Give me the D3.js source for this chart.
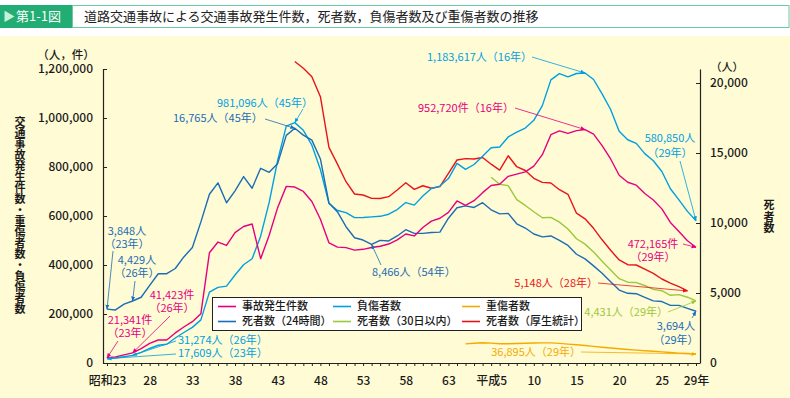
<!DOCTYPE html>
<html>
<head>
<meta charset="utf-8">
<script src="https://cdn.jsdelivr.net/npm/d3@7"></script>
<style>
  body { margin: 0; background: #fff; }
  text { font-family: "Noto Sans CJK JP", "Noto Sans", sans-serif; }
</style>
</head>
<body>
<script>
// years 昭和23 (1948) .. 平成29 (2017)
const years = [1948,1949,1950,1951,1952,1953,1954,1955,1956,1957,
  1958,1959,1960,1961,1962,1963,1964,1965,1966,1967,
  1968,1969,1970,1971,1972,1973,1974,1975,1976,1977,
  1978,1979,1980,1981,1982,1983,1984,1985,1986,1987,
  1988,1989,1990,1991,1992,1993,1994,1995,1996,1997,
  1998,1999,2000,2001,2002,2003,2004,2005,2006,2007,
  2008,2009,2010,2011,2012,2013,2014,2015,2016,2017];

// 事故発生件数
const accidents = [21341,25113,33212,41423,58487,80019,93869,93981,122691,146833,
  168799,201292,449917,493693,479825,531966,557183,567286,425944,521481,
  635056,720880,718080,700290,659283,586713,490452,472938,471041,460649,
  464037,471573,476677,485578,502261,526362,518642,552788,579190,590723,
  614481,661363,643097,662392,695346,724675,729461,761794,771085,780401,
  803878,850371,931950,947253,936950,948281,952720,934346,887267,832704,
  766394,737628,725924,692084,665157,629033,573842,536899,499201,472165];

// 負傷者数
const injured = [17609,20242,25450,31274,43321,59280,72390,76501,102072,124530,
  145432,175951,289156,308697,313813,359089,401117,425666,517775,655377,
  828071,967000,981096,949689,889198,789948,651420,622467,613957,593211,
  594116,596282,598719,607346,626192,654822,644321,681346,712330,722179,
  752845,814832,790295,810245,844003,878633,881723,922677,942204,958925,
  990675,1050399,1155697,1181039,1168029,1181681,1183617,1157113,1098564,1034652,
  945703,911215,896297,854613,825392,781492,711374,666023,618853,580850];

// 死者数（24時間）
const deaths24 = [3848,3790,4202,4429,4696,5544,6374,6379,6751,7575,
  8248,10079,12055,12865,11445,12301,13318,12484,13904,13618,
  14256,16257,16765,16278,15918,14574,11432,10792,9734,8945,
  8783,8466,8760,8719,9073,9520,9262,9261,9317,9347,
  10344,11086,11227,11109,11452,10945,10653,10684,9943,9642,
  9214,9012,9073,8757,8396,7768,7436,6937,6415,5796,
  5209,4979,4948,4691,4438,4388,4113,4117,3904,3694];

// 重傷者数 (1990-2017)
const seriousYears = [1990,1991,1992,1993,1994,1995,1996,1997,1998,1999,
  2000,2001,2002,2003,2004,2005,2006,2007,2008,2009,
  2010,2011,2012,2013,2014,2015,2016,2017];
const serious = [78000,80500,82500,81000,78500,78500,79500,80500,81500,82000,
  82000,80000,77000,74500,71500,68000,64500,61000,58000,55000,
  52500,50000,48000,45500,43000,40500,38500,36895];

// 死者数（30日以内） (1993-2017)
const d30Years = [1993,1994,1995,1996,1997,1998,1999,2000,2001,2002,
  2003,2004,2005,2006,2007,2008,2009,2010,2011,2012,
  2013,2014,2015,2016,2017];
const deaths30 = [13269,12768,12670,11674,11254,10805,10372,10403,10060,9575,
  8877,8492,7931,7272,6639,6023,5772,5745,5535,5261,
  5165,4838,4885,4698,4431];

// 死者数（厚生統計） (1970-2016)
const vitalYears = [1970,1971,1972,1973,1974,1975,1976,1977,1978,1979,
  1980,1981,1982,1983,1984,1985,1986,1987,1988,1989,
  1990,1991,1992,1993,1994,1995,1996,1997,1998,1999,
  2000,2001,2002,2003,2004,2005,2006,2007,2008,2009,
  2010,2011,2012,2013,2014,2015,2016];
const vital = [21535,21050,20450,19020,15400,14206,12950,12070,12000,11760,
  11752,11880,12360,12880,12400,12660,12480,12600,13550,14500,
  14595,14570,14680,14200,13780,14800,14020,13750,13190,12900,
  12857,12380,12050,10700,10300,9620,8800,8050,7360,7020,
  7000,6700,6400,6000,5700,5450,5148];

// x tick labels
const labelYears = [1948,1953,1958,1963,1968,1973,1978,1983,1988,1993,1998,2003,2008,2013,2017];
const labelText = ['昭和23','28','33','38','43','48','53','58','63','平成5','10','15','20','25','29年'];
const leftTicks = [0,200000,400000,600000,800000,1000000,1200000];
const rightTicks = [0,5000,10000,15000,20000];

const C = {
  accidents: '#e5007f',
  injured: '#00a0e0',
  deaths24: '#1b6db6',
  serious: '#f5aa00',
  deaths30: '#9bc93c',
  vital: '#e8141c',
  title: '#22ad74'
};

const W = 790, H = 398;
const svg = d3.select('body').append('svg').attr('width', W).attr('height', H);

// background + title
svg.append('rect').attr('x', 0).attr('y', 36).attr('width', W).attr('height', H - 36).attr('fill', '#fffbd5');
svg.append('rect').attr('x', 72.5).attr('y', 5.5).attr('width', 716.5).attr('height', 22)
  .attr('fill', '#fff').attr('stroke', '#6cc9a2');
svg.append('rect').attr('x', 0).attr('y', 5).attr('width', 72).attr('height', 23).attr('fill', C.title);
svg.append('text').attr('x', 3).attr('y', 16.5).attr('dy', '0.35em')
  .attr('font-size', 12).attr('fill', '#c9efdc').text('▶');
svg.append('text').attr('x', 16).attr('y', 16.5).attr('dy', '0.35em')
  .attr('font-size', 13).attr('fill', '#fff').text('第1-1図');
svg.append('text').attr('x', 84).attr('y', 16.5).attr('dy', '0.35em')
  .attr('font-size', 13).attr('fill', '#222')
  .text('道路交通事故による交通事故発生件数，死者数，負傷者数及び重傷者数の推移');

// scales
const x = d3.scaleLinear().domain([1948, 2017]).range([107, 696]);
const yL = d3.scaleLinear().domain([0, 1200000]).range([363, 69]);
const yR = d3.scaleLinear().domain([0, 21000]).range([363, 69]);

// axes
const axL = svg.append('g').attr('transform', 'translate(103,0)')
  .call(d3.axisLeft(yL).tickValues(leftTicks).tickFormat(d3.format(','))
    .tickSizeInner(-4).tickSizeOuter(0).tickPadding(10));
const axR = svg.append('g').attr('transform', 'translate(700,0)')
  .call(d3.axisRight(yR).tickValues(rightTicks).tickFormat(d3.format(','))
    .tickSizeInner(-4).tickSizeOuter(0).tickPadding(10));

const axB = svg.append('g').attr('transform', 'translate(0,363)')
  .call(d3.axisBottom(x).tickValues(years).tickFormat('').tickSizeInner(3).tickSizeOuter(0));
axB.select('.domain').remove();
const axBL = svg.append('g').attr('transform', 'translate(0,363)')
  .call(d3.axisBottom(x).tickValues(labelYears)
    .tickFormat((d, i) => labelText[i]).tickSize(0).tickPadding(13));
axBL.select('.domain').remove();
svg.append('line').attr('x1', 103).attr('x2', 700).attr('y1', 363.5).attr('y2', 363.5)
  .attr('stroke', '#222').attr('stroke-width', 1.2);

[axL, axR, axB, axBL].forEach(g => {
  g.selectAll('.domain').attr('stroke', '#222').attr('stroke-width', 1.2);
  g.selectAll('.tick line').attr('stroke', '#222');
  g.selectAll('text').attr('font-size', 12).attr('fill', '#1a1a1a')
    .style('font-family', '"Noto Sans CJK JP", sans-serif').attr('font-weight', 500);
});

// axis titles
svg.append('text').attr('x', 66).attr('y', 55).attr('dy', '0.35em').attr('text-anchor', 'middle')
  .attr('font-size', 11.5).attr('font-weight', 500).attr('fill', '#1a1a1a').text('（人，件）');
svg.append('text').attr('x', 727).attr('y', 67).attr('dy', '0.35em').attr('text-anchor', 'middle')
  .attr('font-size', 11).attr('font-weight', 500).attr('fill', '#1a1a1a').text('（人）');
svg.append('text').attr('x', 20).attr('y', 116.5)
  .style('writing-mode', 'vertical-rl').style('text-orientation', 'upright')
  .attr('font-size', 11).attr('font-weight', 700).attr('fill', '#1a1a1a')
  .text('交通事故発生件数・重傷者数・負傷者数');
svg.append('text').attr('x', 769).attr('y', 199.5)
  .style('writing-mode', 'vertical-rl').style('text-orientation', 'upright')
  .attr('font-size', 11).attr('font-weight', 700).attr('fill', '#1a1a1a')
  .attr('letter-spacing', 0.5).text('死者数');

// series lines
const series = [
  { key: 'serious', yrs: seriousYears, vals: serious, y: yL },
  { key: 'deaths30', yrs: d30Years, vals: deaths30, y: yR },
  { key: 'vital', yrs: vitalYears, vals: vital, y: yR },
  { key: 'injured', yrs: years, vals: injured, y: yL },
  { key: 'deaths24', yrs: years, vals: deaths24, y: yR },
  { key: 'accidents', yrs: years, vals: accidents, y: yL }
];
const byKey = {};
series.forEach(s => {
  byKey[s.key] = s;
  const pts = s.yrs.map((yr, i) => [x(yr), s.y(s.vals[i])]);
  svg.append('path').attr('d', d3.line()(pts))
    .attr('fill', 'none').attr('stroke', C[s.key]).attr('stroke-width', 1.4)
    .attr('stroke-linejoin', 'round');
});

// arrow markers
const defs = svg.append('defs');
Object.keys(C).forEach(k => {
  defs.append('marker').attr('id', 'arr-' + k).attr('viewBox', '0 0 10 10')
    .attr('refX', 9).attr('refY', 5).attr('markerWidth', 5).attr('markerHeight', 5)
    .attr('markerUnits', 'userSpaceOnUse').attr('orient', 'auto')
    .append('path').attr('d', 'M0,1 L10,5 L0,9 z').attr('fill', C[k]);
});

// annotations
const notes = [
  { t: ['981,096人（45年）'], s: 'injured', yr: 1970, x: 217, y: 103, a: 'start', from: [303, 109] },
  { t: ['16,765人（45年）'], s: 'deaths24', yr: 1970, x: 173, y: 118, a: 'start', from: [265, 119] },
  { t: ['1,183,617人（16年）'], s: 'injured', yr: 2004, x: 427, y: 57, a: 'start', from: [532, 57] },
  { t: ['952,720件（16年）'], s: 'accidents', yr: 2004, x: 418, y: 108, a: 'start', from: [515, 108] },
  { t: ['580,850人', '（29年）'], s: 'injured', yr: 2017, x: 670, y: 138, a: 'middle', lh: 15, from: [680, 161] },
  { t: ['472,165件', '（29年）'], s: 'accidents', yr: 2017, x: 653, y: 244, a: 'middle', lh: 13.5, from: [683, 244] },
  { t: ['5,148人（28年）'], s: 'vital', yr: 2016, x: 598, y: 283, a: 'end', from: [598, 283] },
  { t: ['4,431人（29年）'], s: 'deaths30', yr: 2017, x: 668, y: 312, a: 'end', from: [668, 312] },
  { t: ['3,694人', '（29年）'], s: 'deaths24', yr: 2017, x: 676, y: 326, a: 'middle', lh: 14, from: [692, 318] },
  { t: ['36,895人（29年）'], s: 'serious', yr: 2017, x: 581, y: 352, a: 'end', from: [581, 352] },
  { t: ['8,466人（54年）'], s: 'deaths24', yr: 1979, x: 372, y: 272, a: 'start', from: [381, 265] },
  { t: ['3,848人', '（23年）'], s: 'deaths24', yr: 1948, x: 127, y: 231, a: 'middle', lh: 13, from: [113, 251] },
  { t: ['4,429人', '（26年）'], s: 'deaths24', yr: 1951, x: 137, y: 260, a: 'middle', lh: 13, from: [135, 281] },
  { t: ['41,423件', '（26年）'], s: 'accidents', yr: 1951, x: 172, y: 295, a: 'middle', lh: 13, from: [170, 316] },
  { t: ['21,341件', '（23年）'], s: 'accidents', yr: 1948, x: 130, y: 320, a: 'middle', lh: 13, from: [118, 341] },
  { t: ['31,274人（26年）'], s: 'injured', yr: 1951, x: 178, y: 340, a: 'start', from: [176, 341] },
  { t: ['17,609人（23年）'], s: 'injured', yr: 1948, x: 178, y: 353, a: 'start', from: [176, 354] }
];

notes.forEach(n => {
  const s = byKey[n.s];
  const v = s.vals[s.yrs.indexOf(n.yr)];
  svg.append('line')
    .attr('x1', n.from[0]).attr('y1', n.from[1])
    .attr('x2', x(n.yr)).attr('y2', s.y(v))
    .attr('stroke', C[n.s]).attr('stroke-width', 0.8)
    .attr('marker-end', 'url(#arr-' + n.s + ')');
  // one text element per note, extra lines as tspans
  const txt = svg.append('text').attr('text-anchor', n.a).attr('font-size', 11).attr('fill', C[n.s]);
  n.t.forEach((line, i) => {
    txt.append('tspan').attr('x', n.x).attr('y', n.y + i * (n.lh || 0)).attr('dy', '0.35em').text(line);
  });
});

// legend
const legend = [
  { k: 'accidents', label: '事故発生件数', col: 0, row: 0 },
  { k: 'injured', label: '負傷者数', col: 1, row: 0 },
  { k: 'serious', label: '重傷者数', col: 2, row: 0 },
  { k: 'deaths24', label: '死者数（24時間）', col: 0, row: 1 },
  { k: 'deaths30', label: '死者数（30日以内）', col: 1, row: 1 },
  { k: 'vital', label: '死者数（厚生統計）', col: 2, row: 1 }
];
const colX = [218, 333, 462];
const lg = svg.append('g');
lg.append('rect').attr('x', 212.5).attr('y', 297.5).attr('width', 369).attr('height', 33)
  .attr('fill', '#fff').attr('stroke', '#222').attr('stroke-width', 1);
legend.forEach(d => {
  const ly = 306.5 + d.row * 15;
  lg.append('line').attr('x1', colX[d.col]).attr('x2', colX[d.col] + 18)
    .attr('y1', ly).attr('y2', ly).attr('stroke', C[d.k]).attr('stroke-width', 1.6);
  lg.append('text').attr('x', colX[d.col] + 24).attr('y', ly).attr('dy', '0.35em')
    .attr('font-size', 11).attr('font-weight', 500).attr('fill', '#1a1a1a').text(d.label);
});
</script>
</body>
</html>
